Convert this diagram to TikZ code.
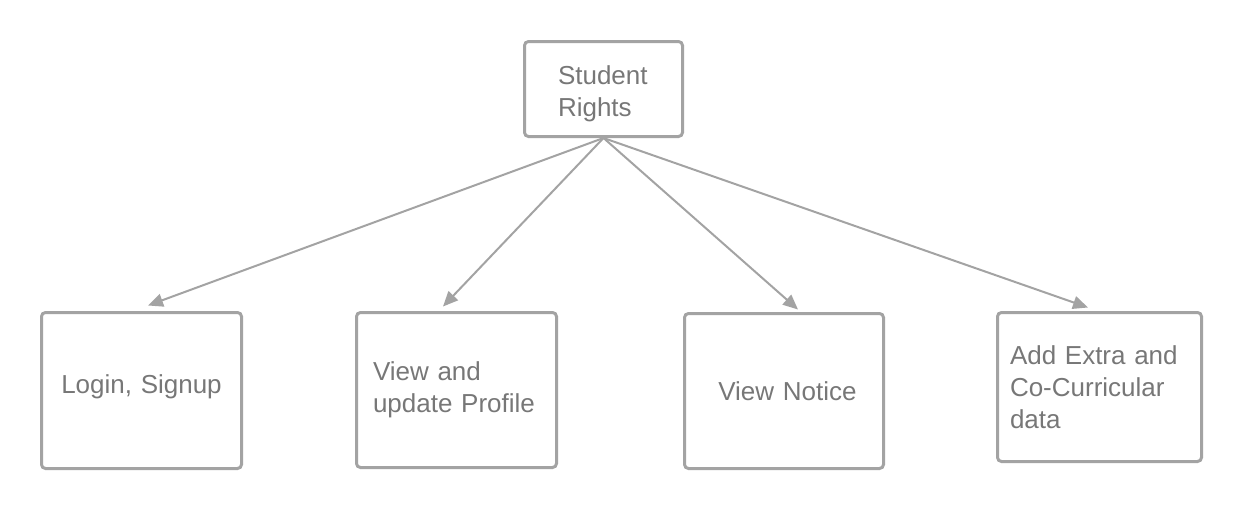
\documentclass[tikz,border=0pt]{standalone}
\usepackage{fontspec}
\setmainfont{Liberation Sans}
\usetikzlibrary{arrows.meta}
\definecolor{boxgray}{HTML}{A3A3A3}
\definecolor{txtgray}{HTML}{777777}
\begin{document}
\begin{tikzpicture}[x=1pt,y=-1pt,
  box/.style={draw=boxgray, line width=3pt, rounded corners=4pt, rectangle,
    text=txtgray, font=\fontsize{26}{32}\selectfont, inner ysep=0pt},
  arr/.style={draw=boxgray, line width=2pt, -{Triangle[length=15pt,width=13pt]}}]
\useasboundingbox (0,0) rectangle (1250,514);
\node[box, minimum width=158pt, minimum height=95pt, inner xsep=33.5pt, text width=91pt, align=left] (top) at (603.5,89) {\rule{0pt}{29pt}Student\\Rights};
\node[box, minimum width=200pt, minimum height=156pt, inner xsep=10pt, text width=180pt, align=center] (b1) at (141.5,390.5) {Login, Signup\rule[-13.5pt]{0pt}{1pt}};
\node[box, minimum width=200pt, minimum height=155pt, inner xsep=16.5pt, text width=167pt, align=left] (b2) at (456.5,390) {View and\\update Profile};
\node[box, minimum width=199pt, minimum height=155pt, inner xsep=27pt, text width=145pt, align=right] (b3) at (784,391) {View Notice};
\node[box, minimum width=204pt, minimum height=149pt, inner xsep=12.5pt, text width=179pt, align=left] (b4) at (1099.5,387) {Add Extra and\\Co-Curricular\\data};
\draw[arr] (top.south) -- ([xshift=6.5pt,yshift=5.5pt]b1.north);
\draw[arr] (top.south) -- ([xshift=-13.5pt,yshift=4.5pt]b2.north);
\draw[arr] (top.south) -- ([xshift=14pt,yshift=2.5pt]b3.north);
\draw[arr] (top.south) -- ([xshift=-11.5pt,yshift=3.5pt]b4.north);
\end{tikzpicture}
\end{document}
